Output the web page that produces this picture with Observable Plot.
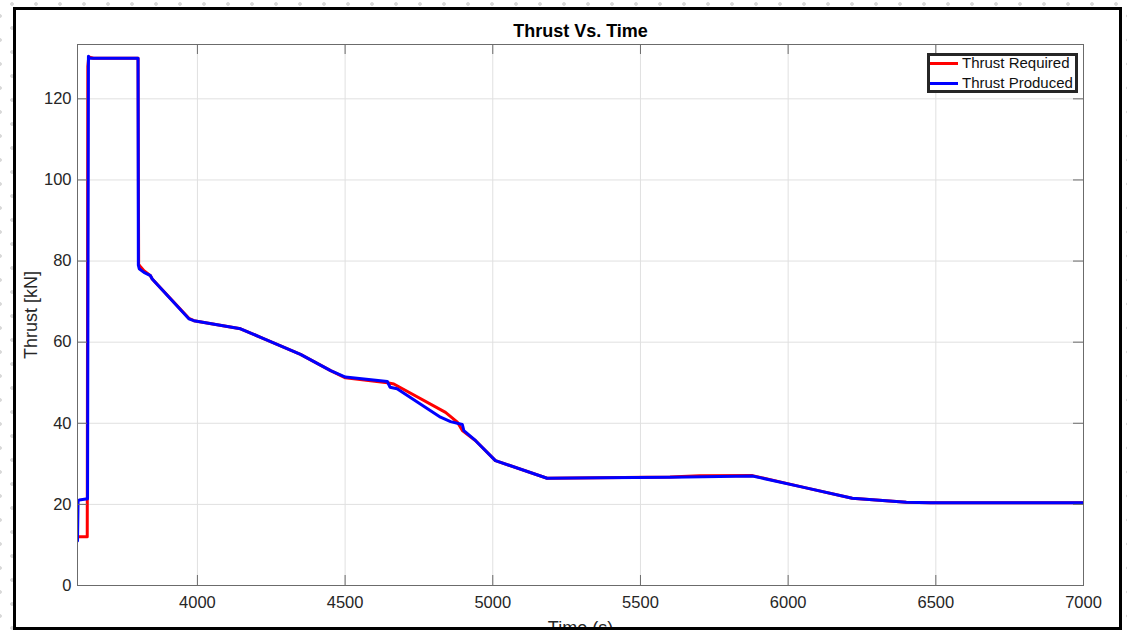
<!DOCTYPE html>
<html><head><meta charset="utf-8">
<script src="https://cdn.jsdelivr.net/npm/d3@7"></script>
<script src="https://cdn.jsdelivr.net/npm/@observablehq/plot@0.6"></script>
<style>
html,body{margin:0;padding:0;width:1127px;height:632px;overflow:hidden;background-color:#fff;}
body{position:relative;
 background-image: radial-gradient(circle, #d8d8d8 1.5px, transparent 2.2px), radial-gradient(circle, #d8d8d8 1.5px, transparent 2.2px);
 background-size:24px 24px, 24px 24px; background-position: 0px -8px, -12px 4px;}
#frame{position:absolute;left:13px;top:7px;width:1103px;height:617px;border:3px solid #000;background:#fff;overflow:hidden;}
#chart{position:absolute;left:0;top:0;}
#legend{position:absolute;left:911px;top:43px;width:145px;height:34px;border:3px solid #262626;background:#fff;
 font-family:"Liberation Sans",Arial,sans-serif;font-size:15px;color:#111;}
.row{position:absolute;left:0;height:20px;line-height:20px;white-space:nowrap;}
.sw{position:absolute;left:0px;top:8.5px;width:28px;height:3px;}
.lab{position:absolute;left:32px;top:0;}
</style></head>
<body>
<div id="frame"><div id="chart"></div>
<div id="legend">
 <div class="row" style="top:-3px"><div class="sw" style="background:#ff0000"></div><div class="lab">Thrust Required</div></div>
 <div class="row" style="top:17px"><div class="sw" style="background:#0000ff"></div><div class="lab">Thrust Produced</div></div>
</div>
</div>
<script>
// Thrust Required (red)
const reqTime = [3594, 3627, 3629, 3632, 3648, 3799, 3801, 3805, 3819, 3841, 3847, 3971, 3988, 4146, 4214, 4349, 4451, 4501, 4643, 4665, 4840, 4880, 4897, 4942, 5009, 5184, 5365, 5600, 5700, 5879, 6053, 6217, 6400, 6482, 7000];
const reqThrust = [12, 12, 128, 130.3, 130, 130, 79.2, 78.8, 77.6, 76.4, 75.6, 65.9, 65.3, 63.3, 61.2, 57, 53, 51.2, 50.0, 49.7, 42.7, 40.3, 38.2, 35.7, 30.8, 26.45, 26.55, 26.75, 27.05, 27.1, 24.2, 21.5, 20.5, 20.4, 20.4];
// Thrust Produced (blue)
const prodTime = [3594, 3596, 3600, 3628, 3631, 3634, 3648, 3799, 3800, 3803, 3819, 3841, 3847, 3971, 3988, 4146, 4214, 4349, 4451, 4501, 4643, 4652, 4676, 4823, 4857, 4897, 4902, 4942, 5009, 5184, 5365, 5600, 5879, 6053, 6217, 6400, 6482, 7000];
const prodThrust = [11, 20.8, 21.1, 21.4, 130.5, 130.1, 130.0, 130.0, 79, 78.1, 77.2, 76.4, 75.6, 65.75, 65.3, 63.3, 61.2, 57, 53, 51.4, 50.3, 48.9, 48.5, 41.5, 40.4, 39.7, 38.2, 35.7, 30.8, 26.45, 26.55, 26.7, 27.0, 24.2, 21.5, 20.5, 20.4, 20.4];
const xTicks = [4000, 4500, 5000, 5500, 6000, 6500, 7000];
const yTicks = [0, 20, 40, 60, 80, 100, 120];
const titleText = "Thrust Vs. Time";
const xLabel = "Time (s)";
const yLabel = "Thrust [kN]";

const req = reqTime.map((t, i) => ({t, v: reqThrust[i]}));
const prod = prodTime.map((t, i) => ({t, v: prodThrust[i]}));

const W = 1103, H = 640, mL = 61, mR = 36, mT = 34, mB = 65;
const plotW = W - mL - mR, plotH = H - mT - mB;
const axisCol = "#6b6b6b", gridCol = "#e0e0e0", txt = "#262626";

const chart = Plot.plot({
  width: W, height: H,
  marginLeft: mL, marginRight: mR, marginTop: mT, marginBottom: mB,
  style: {fontFamily: "'Liberation Sans', Arial, sans-serif", color: txt, background: "transparent", overflow: "visible"},
  x: {domain: [3594, 7000], axis: null},
  y: {domain: [0, 133.4], axis: null},
  marks: [
    Plot.gridX(xTicks, {stroke: gridCol, strokeOpacity: 1}),
    Plot.gridY(yTicks, {stroke: gridCol, strokeOpacity: 1}),
    Plot.line(req, {x: "t", y: "v", stroke: "#ff0000", strokeWidth: 3, clip: true}),
    Plot.line(prod, {x: "t", y: "v", stroke: "#0000ff", strokeWidth: 3, clip: true}),
    Plot.frame({stroke: axisCol, strokeWidth: 1}),
    Plot.tickX(xTicks, {x: d => d, insetTop: plotH - 10, stroke: axisCol}),
    Plot.tickX(xTicks, {x: d => d, insetBottom: plotH - 10, stroke: axisCol}),
    Plot.tickY(yTicks, {y: d => d, insetRight: plotW - 10, stroke: axisCol}),
    Plot.tickY(yTicks, {y: d => d, insetLeft: plotW - 10, stroke: axisCol}),
    Plot.axisX(xTicks, {tickSize: 0, tickPadding: 11, fontSize: 16.5, tickFormat: d => String(d), label: null, fill: txt}),
    Plot.axisY(yTicks, {tickSize: 0, tickPadding: 6, fontSize: 16.5, tickFormat: d => String(d), label: null, fill: txt}),
    Plot.text([titleText], {text: d => d, frameAnchor: "top", lineAnchor: "bottom", dy: -8, fontSize: 18, fontWeight: "bold", fill: "#000"}),
    Plot.text([yLabel], {text: d => d, frameAnchor: "left", textAnchor: "middle", rotate: -90, dx: -46, lineAnchor: "middle", fontSize: 18, fill: txt}),
    Plot.text([xLabel], {text: d => d, frameAnchor: "bottom", textAnchor: "middle", lineAnchor: "bottom", dy: 48, fontSize: 18, fill: txt})
  ]
});
document.getElementById("chart").appendChild(chart);
</script>
</body></html>
